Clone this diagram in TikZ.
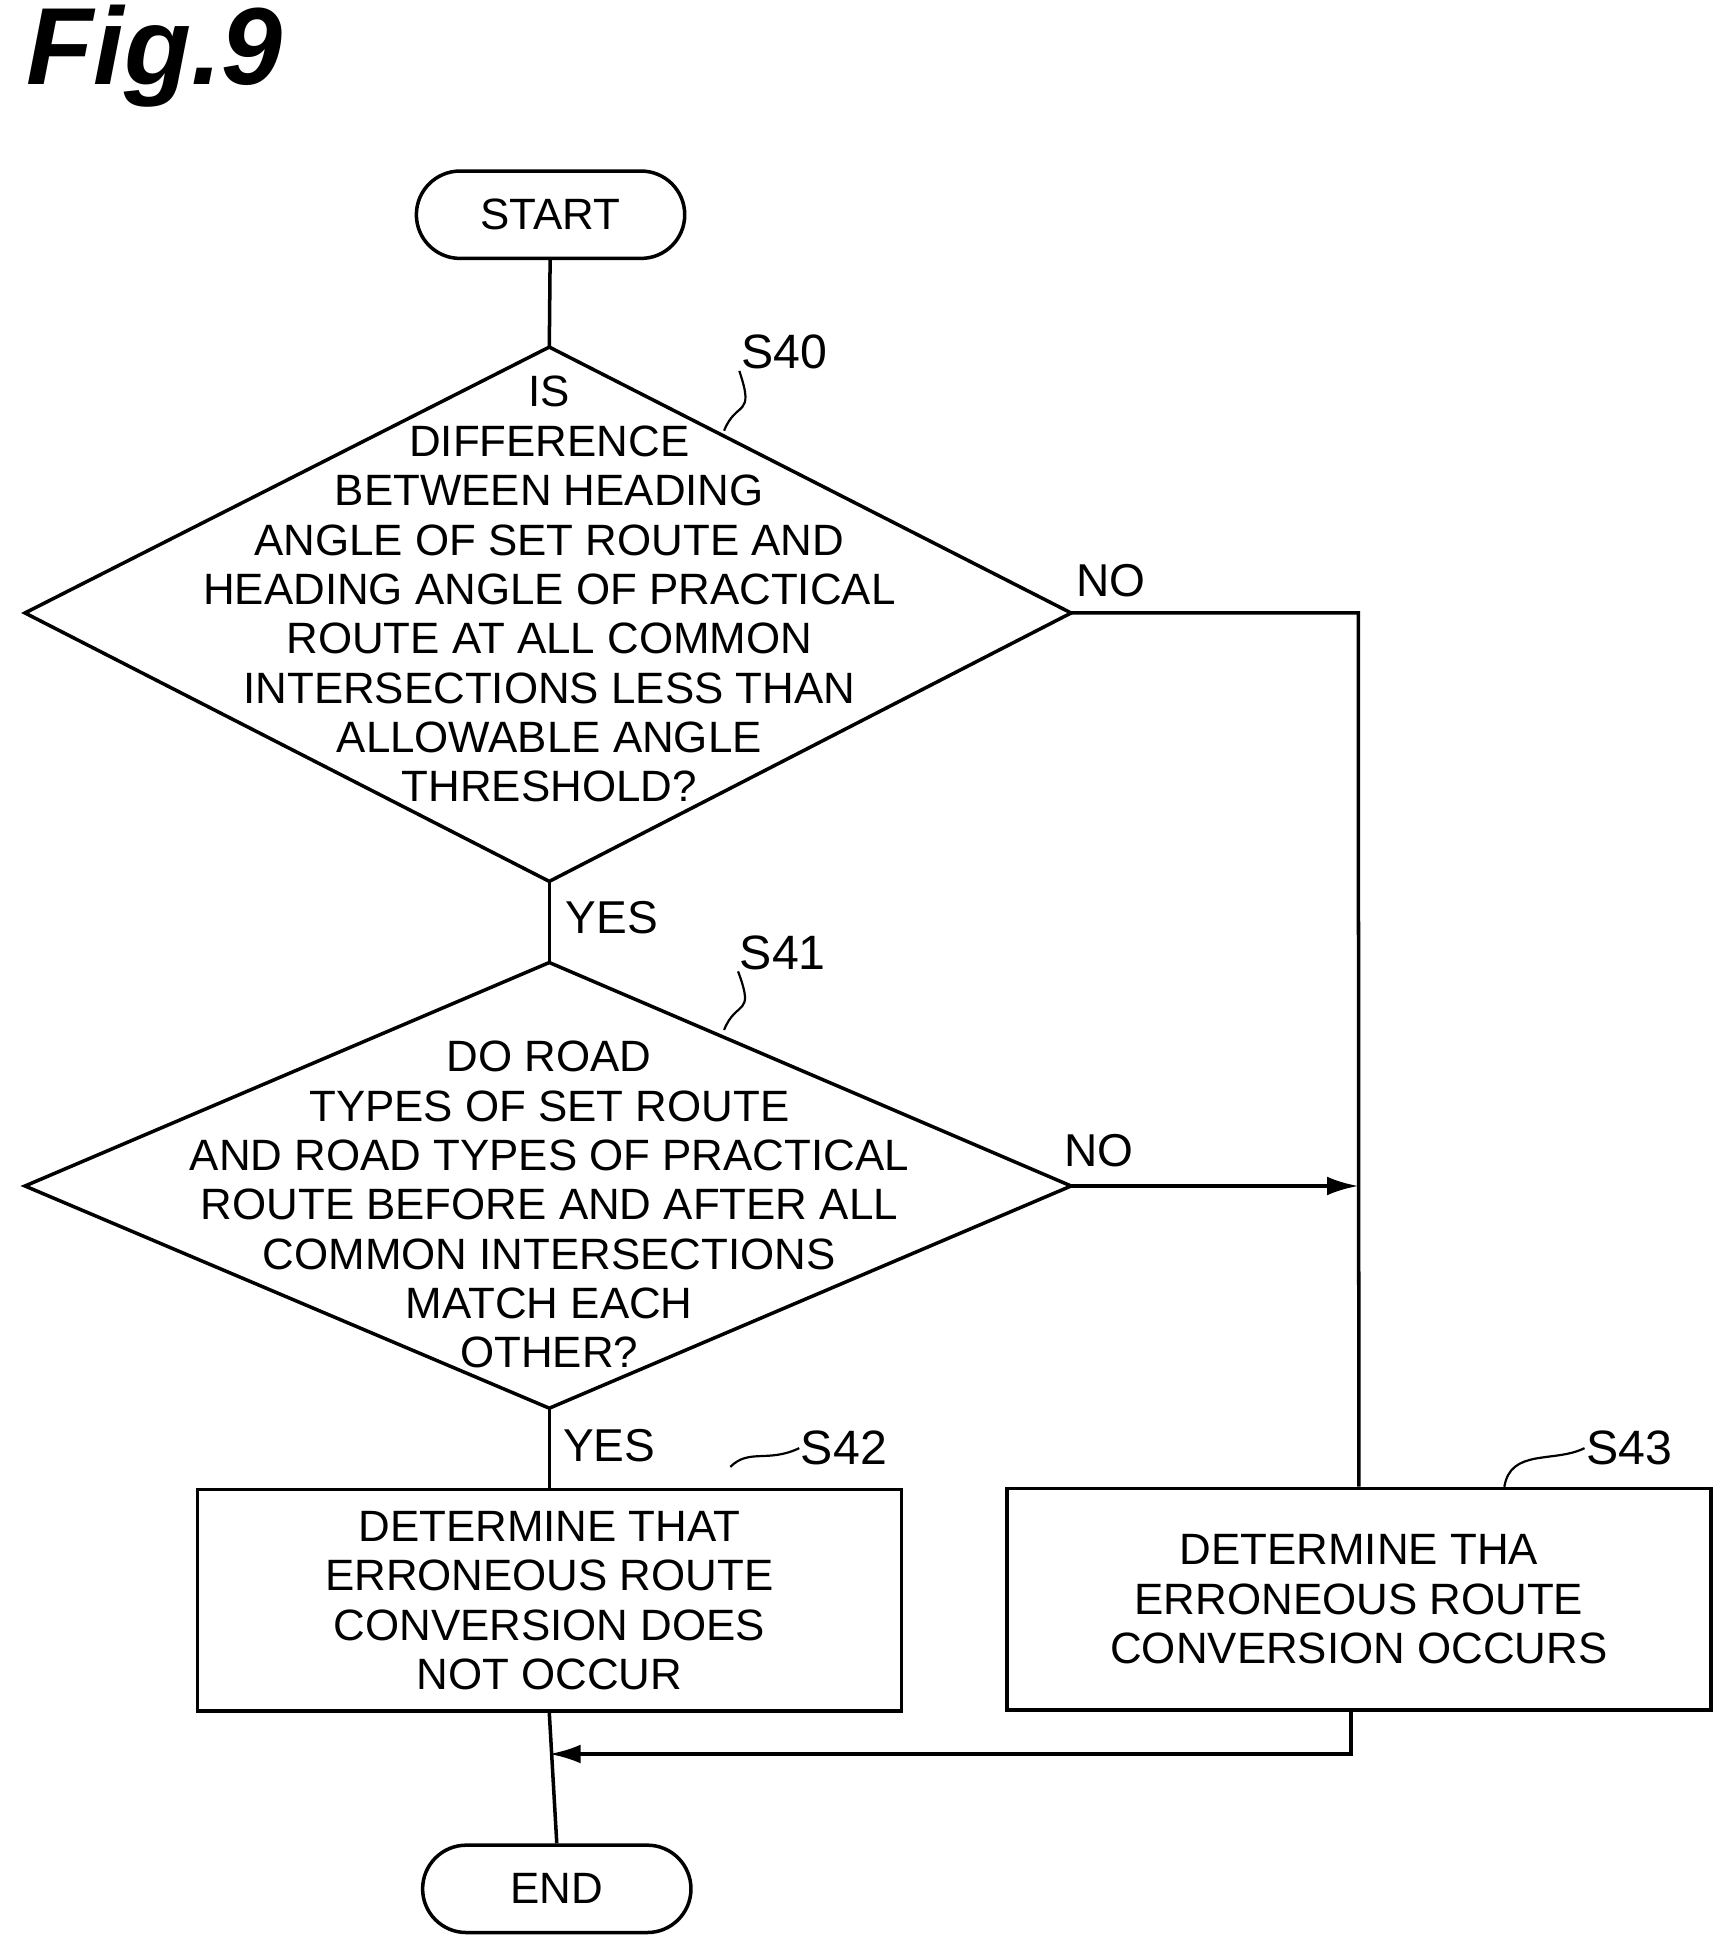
\documentclass[tikz,border=0pt]{standalone}
\usepackage{fontspec}
\setmainfont{Liberation Sans}
\usetikzlibrary{arrows.meta}
\begin{document}
\begin{tikzpicture}[x=0.02cm,y=-0.02cm,
  line width=1.6pt,
  txt/.style={font=\fontsize{20}{22.5}\selectfont,align=center,inner sep=0},
  term/.style={draw,rounded corners=0.7cm,minimum width=4.3cm,minimum height=1.4cm,font=\fontsize{20}{22.5}\selectfont},
  box/.style={draw,minimum width=11.28cm,minimum height=3.55cm,txt},
  lab/.style={font=\fontsize{22}{24}\selectfont,inner sep=0},
  squig/.style={line width=1pt},
  arr/.style={-{Latex[length=0.5cm,width=0.3cm]}}]
\useasboundingbox (0,0) rectangle (1384,1562);
\node[font=\fontsize{50}{50}\selectfont\bfseries\itshape,anchor=west] (fig) at (14,45) {Fig.9};
\node[term] (start) at (441,172) {START};
\coordinate (d1t) at (440,278); \coordinate (d1b) at (440,706);
\coordinate (d1l) at (20,491); \coordinate (d1r) at (858,491);
\draw (d1t)--(d1r)--(d1b)--(d1l)--cycle;
\node[txt] (d1) at (440,472) {IS\\DIFFERENCE\\BETWEEN HEADING\\ANGLE OF SET ROUTE AND\\HEADING ANGLE OF PRACTICAL\\ROUTE AT ALL COMMON\\INTERSECTIONS LESS THAN\\ALLOWABLE ANGLE\\THRESHOLD?};
\coordinate (d2t) at (440,771); \coordinate (d2b) at (440,1128);
\coordinate (d2l) at (20,950); \coordinate (d2r) at (858,950);
\draw (d2t)--(d2r)--(d2b)--(d2l)--cycle;
\node[txt] (d2) at (440,965) {DO ROAD\\TYPES OF SET ROUTE\\AND ROAD TYPES OF PRACTICAL\\ROUTE BEFORE AND AFTER ALL\\COMMON INTERSECTIONS\\MATCH EACH\\OTHER?};
\node[box] (b42) at (440,1282) {DETERMINE THAT\\ERRONEOUS ROUTE\\CONVERSION DOES\\NOT OCCUR};
\node[box] (b43) at (1088.5,1281) {DETERMINE THA\\ERRONEOUS ROUTE\\CONVERSION OCCURS};
\node[term] (end) at (446,1513) {END};
\node[lab] (s40) at (628,282) {S40};
\node[lab] (s41) at (627,763) {S41};
\node[lab] (s42) at (676,1160) {S42};
\node[lab] (s43) at (1305,1160) {S43};
\coordinate (q40) at (580,345); \coordinate (q41) at (580,825);
\coordinate (q42) at (585,1175); \coordinate (q43) at (1205,1191);
\draw[squig] (q40) .. controls (590,320) and (605,335) .. (s40.south west);
\draw[squig] (q41) .. controls (590,800) and (605,815) .. (s41.south west);
\draw[squig] (q42) .. controls (600,1160) and (615,1172) .. (s42.west);
\draw[squig] (q43) .. controls (1210,1160) and (1245,1172) .. (s43.west);
\coordinate (c1) at (1088,491); \coordinate (c2) at (1088,950);
\coordinate (c3) at (1082,1405); \coordinate (c4) at (440,1405);
\draw (start)--(d1t);
\draw (d1b)--(d2t);
\draw (d2b)--(b42.north);
\draw (b42.south)--(end.north);
\draw (d1r)--(c1)--(b43.north);
\draw[arr] (d2r)--(c2);
\draw[arr] (b43.south -| c3)--(c3)--(c4);
\node[txt,font=\fontsize{21}{22}\selectfont] (no1) at (890,465) {NO};
\node[txt,font=\fontsize{21}{22}\selectfont] (no2) at (880,922) {NO};
\node[txt,font=\fontsize{21}{22}\selectfont] (y1) at (490,735) {YES};
\node[txt,font=\fontsize{21}{22}\selectfont] (y2) at (488,1158) {YES};
\end{tikzpicture}
\end{document}
